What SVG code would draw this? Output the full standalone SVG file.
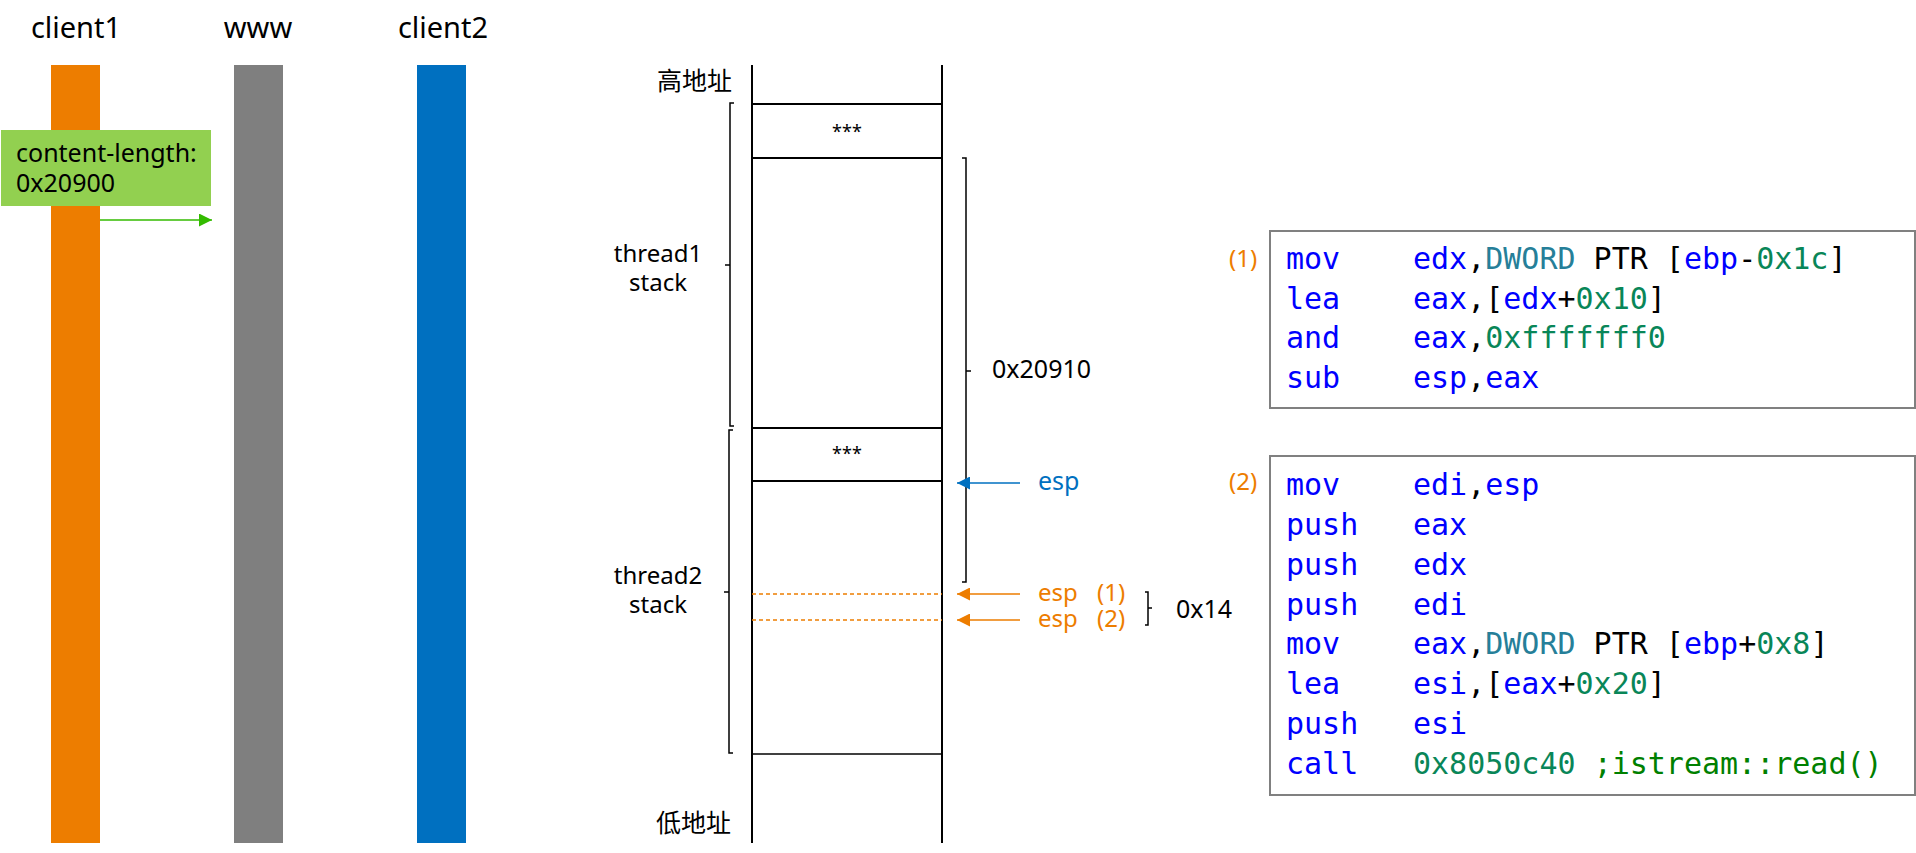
<svg xmlns="http://www.w3.org/2000/svg" width="1916" height="853" viewBox="0 0 1916 853">
<style>
.t{font-family:"Noto Sans","Open Sans","Noto Sans CJK SC",sans-serif;fill:#000}
.cjk{font-family:"Noto Sans CJK SC","Noto Sans",sans-serif;font-size:25px;fill:#000}
.lbl{font-size:24px}
.ttl{font-size:29px}
.code{font-family:"DejaVu Sans Mono","Liberation Mono",monospace;font-size:30px;fill:#000}
.kw{fill:#0000ff}
.ty{fill:#267f99}
.num{fill:#098658}
.cm{fill:#008000}
.org{fill:#ed7d00}
.blu{fill:#0070c0}
.stk{stroke:#000;stroke-width:2;fill:none}
.br{stroke:#000;stroke-width:1.5;fill:none}
.box{fill:#fff;stroke:#808080;stroke-width:2}
</style>
<defs>
<marker id="ahG" markerUnits="userSpaceOnUse" markerWidth="13" markerHeight="13" viewBox="0 0 12 12" refX="12" refY="6" orient="auto"><path d="M0,0L12,6L0,12z" fill="#33bb00"/></marker>
<marker id="ahB" markerUnits="userSpaceOnUse" markerWidth="13" markerHeight="13" viewBox="0 0 12 12" refX="12" refY="6" orient="auto"><path d="M0,0L12,6L0,12z" fill="#0070c0"/></marker>
<marker id="ahO" markerUnits="userSpaceOnUse" markerWidth="13" markerHeight="13" viewBox="0 0 12 12" refX="12" refY="6" orient="auto"><path d="M0,0L12,6L0,12z" fill="#ed7d00"/></marker>
</defs>
<rect width="1916" height="853" fill="#fff"/>

<g id="client1">
<text class="t ttl" x="76" y="38" text-anchor="middle">client1</text>
<rect x="51" y="65" width="49" height="778" fill="#ed7d00"/>
</g>
<g id="www">
<text class="t ttl" x="258" y="38" text-anchor="middle">www</text>
<rect x="234" y="65" width="49" height="778" fill="#7f7f7f"/>
</g>
<g id="client2">
<text class="t ttl" x="443" y="38" text-anchor="middle">client2</text>
<rect x="417" y="65" width="49" height="778" fill="#0070c0"/>
</g>
<g id="content-length">
<rect x="1" y="130" width="210" height="76" fill="#92d050"/>
<text class="t" font-size="25" x="16" y="162">content-length:</text>
<text class="t" font-size="25" x="16" y="192">0x20900</text>
</g>

<g id="stack">
<line class="stk" x1="752" y1="65" x2="752" y2="843"/>
<line class="stk" x1="942" y1="65" x2="942" y2="843"/>
<line class="stk" x1="752" y1="104" x2="942" y2="104"/>
<line class="stk" x1="752" y1="158" x2="942" y2="158"/>
<line class="stk" x1="752" y1="428" x2="942" y2="428"/>
<line class="stk" x1="752" y1="481" x2="942" y2="481"/>
<line stroke="#000" stroke-width="1.5" x1="752" y1="754" x2="942" y2="754"/>
<text class="t" font-size="18" x="847" y="138" text-anchor="middle">***</text>
<text class="t" font-size="18" x="847" y="460" text-anchor="middle">***</text>
<line stroke="#ed7d00" stroke-width="1.3" stroke-dasharray="4 3" x1="752" y1="594" x2="942" y2="594"/>
<line stroke="#ed7d00" stroke-width="1.3" stroke-dasharray="4 3" x1="752" y1="620" x2="942" y2="620"/>
<text class="cjk" x="732" y="90" text-anchor="end">高地址</text>
<text class="cjk" x="731" y="832" text-anchor="end">低地址</text>
</g>

<g id="thread1">
<path class="br" d="M734,103H730V426H734M730,265H725"/>
<text class="t lbl" x="658" y="262" text-anchor="middle">thread1</text>
<text class="t lbl" x="658" y="291" text-anchor="middle">stack</text>
</g>
<g id="thread2">
<path class="br" d="M733,430H729V753H733M729,592H724"/>
<text class="t lbl" x="658" y="584" text-anchor="middle">thread2</text>
<text class="t lbl" x="658" y="613" text-anchor="middle">stack</text>
</g>
<g id="size20910">
<path class="br" d="M962,158H966V582H962M966,371H971"/>
<text class="t" font-size="25" x="992" y="378">0x20910</text>
</g>
<g id="size14">
<path class="br" d="M1145,592H1148V625H1145M1148,608H1152"/>
<text class="t" font-size="25" x="1176" y="618">0x14</text>
</g>

<g id="esp-labels">
<text class="t blu" font-size="25" x="1038" y="490">esp</text>
<text class="t org" font-size="24" x="1038" y="601">esp</text>
<text class="t org" font-size="24" x="1097" y="601">(1)</text>
<text class="t org" font-size="24" x="1038" y="627">esp</text>
<text class="t org" font-size="24" x="1097" y="627">(2)</text>
</g>

<g id="connectors">
<line x1="100" y1="220" x2="212" y2="220" stroke="#33bb00" stroke-width="1.5" marker-end="url(#ahG)"/>
<line x1="1020" y1="483" x2="957" y2="483" stroke="#0070c0" stroke-width="1.3" marker-end="url(#ahB)"/>
<line x1="1020" y1="594" x2="957" y2="594" stroke="#ed7d00" stroke-width="1.3" marker-end="url(#ahO)"/>
<line x1="1020" y1="620" x2="957" y2="620" stroke="#ed7d00" stroke-width="1.3" marker-end="url(#ahO)"/>
</g>

<g id="code1">
<rect class="box" x="1270" y="231" width="645" height="177"/>
<text class="t org" font-size="24" x="1229" y="267">(1)</text>
<text class="code kw" x="1286" y="269">mov</text>
<text class="code" x="1413" y="269" xml:space="preserve"><tspan class="kw">edx</tspan>,<tspan class="ty">DWORD</tspan> PTR [<tspan class="kw">ebp</tspan>-<tspan class="num">0x1c</tspan>]</text>
<text class="code kw" x="1286" y="309">lea</text>
<text class="code" x="1413" y="309" xml:space="preserve"><tspan class="kw">eax</tspan>,[<tspan class="kw">edx</tspan>+<tspan class="num">0x10</tspan>]</text>
<text class="code kw" x="1286" y="348">and</text>
<text class="code" x="1413" y="348" xml:space="preserve"><tspan class="kw">eax</tspan>,<tspan class="num">0xfffffff0</tspan></text>
<text class="code kw" x="1286" y="388">sub</text>
<text class="code" x="1413" y="388" xml:space="preserve"><tspan class="kw">esp</tspan>,<tspan class="kw">eax</tspan></text>
</g>

<g id="code2">
<rect class="box" x="1270" y="456" width="645" height="339"/>
<text class="t org" font-size="24" x="1229" y="490">(2)</text>
<text class="code kw" x="1286" y="495">mov</text>
<text class="code" x="1413" y="495" xml:space="preserve"><tspan class="kw">edi</tspan>,<tspan class="kw">esp</tspan></text>
<text class="code kw" x="1286" y="535">push</text>
<text class="code kw" x="1413" y="535">eax</text>
<text class="code kw" x="1286" y="575">push</text>
<text class="code kw" x="1413" y="575">edx</text>
<text class="code kw" x="1286" y="615">push</text>
<text class="code kw" x="1413" y="615">edi</text>
<text class="code kw" x="1286" y="654">mov</text>
<text class="code" x="1413" y="654" xml:space="preserve"><tspan class="kw">eax</tspan>,<tspan class="ty">DWORD</tspan> PTR [<tspan class="kw">ebp</tspan>+<tspan class="num">0x8</tspan>]</text>
<text class="code kw" x="1286" y="694">lea</text>
<text class="code" x="1413" y="694" xml:space="preserve"><tspan class="kw">esi</tspan>,[<tspan class="kw">eax</tspan>+<tspan class="num">0x20</tspan>]</text>
<text class="code kw" x="1286" y="734">push</text>
<text class="code kw" x="1413" y="734">esi</text>
<text class="code kw" x="1286" y="774">call</text>
<text class="code" x="1413" y="774" xml:space="preserve"><tspan class="num">0x8050c40</tspan> <tspan class="cm">;istream::read()</tspan></text>
</g>
</svg>
